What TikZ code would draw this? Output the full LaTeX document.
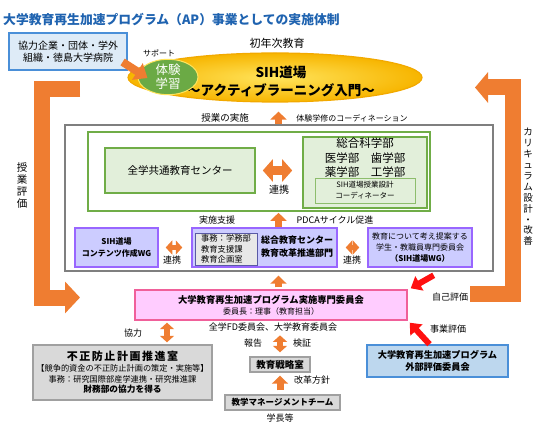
\documentclass[tikz,border=0pt]{standalone}
\usepackage{fontspec}
\setmainfont{Noto Sans CJK JP}
\usetikzlibrary{arrows.meta,shapes.geometric}
\definecolor{ttlblue}{HTML}{1F63B0}
\definecolor{aporange}{HTML}{EF7D31}
\definecolor{apgreen}{HTML}{70AD47}
\definecolor{greenfill}{HTML}{E2EFDA}
\definecolor{wgline}{HTML}{9966FF}
\definecolor{wgfill}{HTML}{CCCCFF}
\definecolor{pinkfill}{HTML}{FFCCFF}
\definecolor{pinkline}{HTML}{F0609A}
\definecolor{bluefill}{HTML}{BDD7EE}
\definecolor{blueline}{HTML}{4A8FD8}
\definecolor{skyfill}{HTML}{DEEBF7}
\definecolor{grayfill}{HTML}{D9D9D9}
\definecolor{grayline}{HTML}{A0A0A0}
\definecolor{frameline}{HTML}{7F7F7F}
\definecolor{evalred}{HTML}{FF1010}
\definecolor{sunin}{HTML}{FFE45C}
\definecolor{sunout}{HTML}{F7B500}
\definecolor{sunline}{HTML}{F2A900}
\definecolor{leaf}{HTML}{6BAA45}
\newcommand\apfs[2]{\fontsize{#1}{#2}\selectfont}
\tikzset{
  box/.style={draw, line width=1.2pt, inner sep=0pt, align=center},
  skybox/.style={box, draw=blueline, fill=skyfill, font=\apfs{10}{12.5}},
  outerbox/.style={box, draw=frameline, line width=1.4pt},
  gbox/.style={box, draw=apgreen, line width=1.6pt},
  gfbox/.style={gbox, fill=greenfill},
  coordbox/.style={box, draw=apgreen!80, line width=0.8pt, fill=greenfill, font=\apfs{7.5}{11}},
  wgbox/.style={box, draw=wgline, line width=1.5pt, fill=wgfill},
  jimubox/.style={box, draw=frameline!70!blue, line width=0.8pt, fill=grayfill!60, align=left, font=\apfs{8.3}{10.8}},
  pinkbox/.style={box, draw=pinkline, line width=1.4pt, fill=pinkfill},
  graybox/.style={box, draw=grayline, line width=1.4pt, fill=grayfill},
  bluebox/.style={box, draw=blueline, line width=1.5pt, fill=bluefill, font=\apfs{9.2}{12}\bfseries},
  sun/.style={ellipse, draw=sunline, line width=1.2pt, shading=radial, inner color=sunin, outer color=sunout, inner sep=0pt},
  seed/.style={ellipse, draw=sunin, line width=1pt, fill=leaf, inner sep=0pt, text=white, align=center, font=\apfs{12.5}{13.5}},
  lbl/.style={inner sep=0pt, font=\apfs{9}{11}},
  vtxt/.style={inner sep=0pt, align=center},
  oup/.style={draw=aporange, line width=7pt, -{Triangle[width=16pt,length=8pt]}},
  odbl/.style={draw=aporange, line width=9pt, {Triangle[width=22pt,length=10pt]}-{Triangle[width=22pt,length=10pt]}},
  odbls/.style={draw=aporange, line width=5.5pt, {Triangle[width=14pt,length=6.5pt]}-{Triangle[width=14pt,length=6.5pt]}},
  obig/.style={draw=aporange, line width=16pt, -{Triangle[width=31pt,length=15pt]}},
  parr/.style={draw=aporange, line width=8pt, -{Triangle[width=19pt,length=12pt]}},
  rarr/.style={draw=evalred, line width=6pt, -{Triangle[width=16pt,length=10pt]}},
}
\begin{document}
\begin{tikzpicture}[x=1pt,y=-1pt]
  \useasboundingbox (0,0) rectangle (540,427);
  % feedback loops
  \coordinate (ltop) at (80,89.5);
  \coordinate (lend) at (80,297.5);
  \coordinate (lbar) at (41.5,0);
  \coordinate (rtail) at (470,294);
  \coordinate (rtip) at (475,87.5);
  \coordinate (rbar) at (512.5,0);
  \draw[obig] (ltop) -- (ltop -| lbar) -- (lend -| lbar) -- (lend);
  \draw[obig, -{Triangle[width=30pt,length=13pt]}] (rtail) -- (rtail -| rbar) -- (rtip -| rbar) -- (rtip);
  \node[vtxt, font=\apfs{10.5}{12}] (hyoka) at (22,186) {授\\業\\評\\価};
  \node[vtxt, font=\apfs{9.5}{10.9}] (kaizen) at (528,187) {カ\\リ\\キ\\ュ\\ラ\\ム\\設\\計\\・\\改\\善};
  % title and top
  \node[inner sep=0pt, anchor=west, text=ttlblue, font=\apfs{12.8}{15}\bfseries] (title) at (3,20) {大学教育再生加速プログラム（AP）事業としての実施体制};
  \node[skybox, minimum width=118pt, minimum height=37pt] (partner) at (68,51.5) {協力企業・団体・学外\\組織・徳島大学病院};
  \node[lbl, font=\apfs{11}{13}] (shonen) at (277,43) {初年次教育};
  \node[sun, minimum width=294pt, minimum height=49pt] (sih) at (275,77.5) {};
  \node[inner sep=0pt, align=center, font=\apfs{13.5}{18}\bfseries] (sihtxt) at (281,81) {SIH道場\\～アクティブラーニング入門～};
  \node[seed, minimum width=60pt, minimum height=34pt] (taiken) at (168,77) {体験\\学習};
  \node[lbl, font=\apfs{8}{10}] (support) at (159,53) {サポート};
  \draw[parr] ([shift={(-5,10.5)}]partner.east) -- ([shift={(10,1)}]taiken.west);
  % main frame
  \coordinate (axis) at (278.5,0);
  \node[outerbox, minimum width=428pt, minimum height=146pt] (frame) at (279,198) {};
  \node[lbl, font=\apfs{9.5}{11}] (jugyo) at (225,118) {授業の実施};
  \node[lbl, font=\apfs{8}{10}] (coordlbl) at (352,118) {体験学修のコーディネーション};
  \draw[oup, shorten >=9pt] (frame.north -| axis) -- (sih.south -| axis);
  \node[gbox, minimum width=342pt, minimum height=79pt] (gframe) at (259,171.5) {};
  \node[gfbox, minimum width=150pt, minimum height=45pt, font=\apfs{10.5}{12}] (center) at (180,170.5) {全学共通教育センター};
  \node[gfbox, minimum width=124pt, minimum height=71pt] (faculty) at (365,172.5) {};
  \node[inner sep=0pt, align=center, font=\apfs{11.5}{14.5}] (factxt) at (365,158) {総合科学部\\医学部　歯学部\\薬学部　工学部};
  \node[coordbox, minimum width=100pt, minimum height=25pt] (coordinator) at (365,190.5) {SIH道場授業設計\\コーディネーター};
  \draw[odbl, shorten <=7pt, shorten >=10pt] (center.east) -- (center.east -| faculty.west);
  \node[lbl, font=\apfs{10}{12}] (renkeiA) at (279,190) {連携};
  \node[lbl] (jissi) at (217,220) {実施支援};
  \node[lbl] (pdca) at (335,220) {PDCAサイクル促進};
  \node[wgbox, minimum width=83pt, minimum height=39pt, font=\apfs{8}{12}\bfseries] (wg) at (116.5,247.5) {SIH道場\\コンテンツ作成WG};
  \node[wgbox, minimum width=145pt, minimum height=39pt] (mid) at (264.5,247.5) {};
  \node[jimubox, minimum width=62pt, minimum height=32pt] (jimu) at (226,249) {事務：学務部\\教育支援課\\教育企画室};
  \node[inner sep=0pt, align=center, font=\apfs{9}{13}\bfseries] (midtxt) at (297,247) {総合教育センター\\教育改革推進部門};
  \node[wgbox, minimum width=104pt, minimum height=39pt, font=\apfs{8}{11}] (student) at (420,247.5) {教育について考え提案する\\学生・教職員専門委員会\\{\bfseries （SIH道場WG）}};
  \draw[oup, shorten >=1pt] (mid.north -| axis) -- (gframe.south -| axis);
  \draw[odbls, shorten <=7pt, shorten >=9pt] (wg.east) -- (mid.west);
  \draw[odbls, shorten <=8pt, shorten >=8pt] (mid.east) -- (student.west);
  \node[lbl] (renkeiB) at (172,260) {連携};
  \node[lbl] (renkeiC) at (352,260) {連携};
  % committees
  \node[pinkbox, minimum width=272pt, minimum height=30pt] (pink) at (271,305) {{\apfs{9.3}{11}\bfseries 大学教育再生加速プログラム実施専門委員会}\\[-1pt]{\apfs{8}{10}委員長：理事（教育担当）}};
  \draw[oup, shorten <=2pt, shorten >=4pt] (pink.north -| axis) -- (frame.south -| axis);
  \node[lbl] (jiko) at (450,297) {自己評価};
  \node[lbl] (jigyo) at (448,329) {事業評価};
  \node[bluebox, minimum width=141pt, minimum height=32pt] (gaibu) at (437.5,361) {大学教育再生加速プログラム\\外部評価委員会};
  \draw[rarr] ([shift={(26,-14)}]pink.north east) -- ([shift={(3,-1)}]pink.north east);
  \draw[rarr] ([xshift=-8pt]gaibu.north) -- ([shift={(2,2)}]pink.south east);
  \node[lbl] (kyoryoku) at (133,333) {協力};
  \node[lbl] (fd) at (273,327) {全学FD委員会、大学教育委員会};
  \node[graybox, minimum width=179pt, minimum height=55pt, font=\apfs{8.2}{10.8}] (fusei) at (122.5,372.5) {{\apfs{11}{12}\bfseries\addfontfeatures{LetterSpace=14}不正防止計画推進室}\\【競争的資金の不正防止計画の策定・実施等】\\事務：研究国際部産学連携・研究推進課\\{\apfs{8.7}{11}\bfseries 財務部の協力を得る}};
  \coordinate (axisB) at (167,0);
  \draw[odbls, line width=6pt, shorten <=2pt, shorten >=2pt] (pink.south -| axisB) -- (fusei.north -| axisB);
  \node[lbl] (hokoku) at (253,343) {報告};
  \node[lbl] (kensho) at (302,343) {検証};
  \node[graybox, minimum width=60pt, minimum height=15pt, font=\apfs{9.5}{11}\bfseries] (senryaku) at (280,364.5) {教育戦略室};
  \draw[odbls, line width=6pt, shorten <=4pt, shorten >=4pt] (fd.south -| senryaku.north) -- (senryaku.north);
  \node[graybox, minimum width=115pt, minimum height=15pt, font=\apfs{8.5}{10}\bfseries] (kyogaku) at (282.5,402.5) {教学マネージメントチーム};
  \draw[oup, shorten <=4pt, shorten >=3pt] (kyogaku.north -| senryaku.south) -- (senryaku.south);
  \node[lbl] (kaikaku) at (312,380) {改革方針};
  \node[lbl] (gakucho) at (280,418) {学長等};
\end{tikzpicture}
\end{document}
